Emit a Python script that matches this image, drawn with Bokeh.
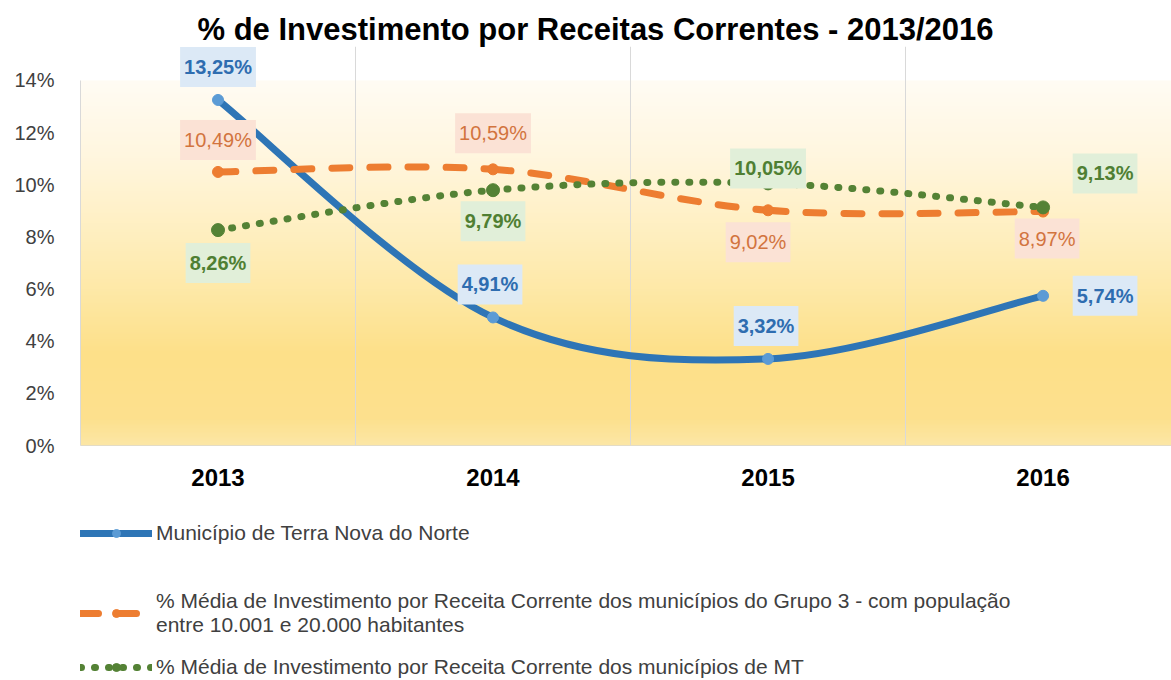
import numpy as np
from bokeh.plotting import figure
from bokeh.layouts import column
from bokeh.models import ColumnDataSource, Range1d, FixedTicker, Label, Legend, LegendItem
from bokeh.embed import file_html
from bokeh.resources import INLINE

# ---------------- data ----------------
years = ["2013", "2014", "2015", "2016"]
terra_nova = [13.25, 4.91, 3.32, 5.74]
grupo3 = [10.49, 10.59, 9.02, 8.97]
mt = [8.26, 9.79, 10.05, 9.13]
y_ticks = [0, 2, 4, 6, 8, 10, 12, 14]
y_tick_labels = ["0%", "2%", "4%", "6%", "8%", "10%", "12%", "14%"]
series_names = [
    "Município de Terra Nova do Norte",
    "% Média de Investimento por Receita Corrente dos municípios do Grupo 3 - com população\nentre 10.001 e 20.000 habitantes",
    "% Média de Investimento por Receita Corrente dos municípios de MT",
]
title_text = "% de Investimento por Receitas Correntes - 2013/2016"

# ---------------- styles ----------------
FONT = "Liberation Sans"
xs = list(range(1, len(years) + 1))
blue, blue_m = "#2E75B6", "#5B9BD5"
orange = "#ED7D31"
green = "#548235"

# label offsets (px) per series / point
blue_off = [(0, 33), (-3, 33), (-2, 33), (62, 0)]
orange_off = [(0, 32), (0, 36), (-10, -32), (4, -27)]
green_off = [(0, -33), (0, -31), (0, 15), (62, 34)]
# legend entry positions inside the legend strip (px from its frame's bottom-left)
legend_pos = [(0, 135), (0, 43), (0, 1)]


def bezier_source(xv, yv):
    n = len(xv)
    pts = list(zip(xv, yv))
    d = dict(x0=[], y0=[], x1=[], y1=[], cx0=[], cy0=[], cx1=[], cy1=[])
    for i in range(n - 1):
        p0 = pts[max(i - 1, 0)]
        p1 = pts[i]
        p2 = pts[i + 1]
        p3 = pts[min(i + 2, n - 1)]
        d["x0"].append(p1[0]); d["y0"].append(p1[1])
        d["x1"].append(p2[0]); d["y1"].append(p2[1])
        d["cx0"].append(p1[0] + (p2[0] - p0[0]) / 6.0)
        d["cy0"].append(p1[1] + (p2[1] - p0[1]) / 6.0)
        d["cx1"].append(p2[0] - (p3[0] - p1[0]) / 6.0)
        d["cy1"].append(p2[1] - (p3[1] - p1[1]) / 6.0)
    return ColumnDataSource(d)


def fmt(v):
    return ("%.2f" % v).replace(".", ",") + "%"


p = figure(
    width=1171, height=500,
    x_range=Range1d(0.5, 4.467), y_range=Range1d(0, 15.3),
    output_backend="svg", toolbar_location=None,
    min_border_left=80, min_border_right=0, min_border_top=46, min_border_bottom=55,
)
p.outline_line_color = None
p.background_fill_color = "white"
p.border_fill_color = "white"

# title
p.title.text = title_text
p.title.text_font = FONT
p.title.text_font_size = "31px"
p.title.text_font_style = "bold"
p.title.text_color = "black"
p.title.align = "left"
p.title.offset = 117
p.title.standoff = 0

# background gradient
rows = 280
yy = np.linspace(0, 14, rows)
stop_y = [0, 1.0, 3.5, 6.0, 8.5, 11.0, 14.0]
stop_c = [(252, 231, 166), (253, 225, 142), (253, 224, 137), (254, 233, 168),
          (255, 240, 196), (255, 246, 222), (255, 252, 244)]
r = np.interp(yy, stop_y, [c[0] for c in stop_c])
g = np.interp(yy, stop_y, [c[1] for c in stop_c])
b = np.interp(yy, stop_y, [c[2] for c in stop_c])
img = np.empty((rows, 2), dtype=np.uint32)
view = img.view(dtype=np.uint8).reshape((rows, 2, 4))
for j in range(2):
    view[:, j, 0] = r.astype(np.uint8)
    view[:, j, 1] = g.astype(np.uint8)
    view[:, j, 2] = b.astype(np.uint8)
    view[:, j, 3] = 255
bg = p.image_rgba(image=[img], x=0.5, y=0, dw=4.0, dh=14)
bg.level = "image"

# axes
p.yaxis.ticker = FixedTicker(ticks=y_ticks)
p.yaxis.bounds = (y_ticks[0], y_ticks[-1])
p.yaxis.major_label_overrides = {t: l for t, l in zip(y_ticks, y_tick_labels)}
p.yaxis.major_label_text_font = FONT
p.yaxis.major_label_text_font_size = "20px"
p.yaxis.major_label_text_color = "#404040"
p.yaxis.major_tick_line_color = None
p.yaxis.minor_tick_line_color = None
p.yaxis.axis_line_color = "#D9D9D9"
p.yaxis.major_label_standoff = 20

p.xaxis.ticker = FixedTicker(ticks=xs)
p.xaxis.major_label_overrides = {t: l for t, l in zip(xs, years)}
p.xaxis.major_label_text_font = FONT
p.xaxis.major_label_text_font_size = "24px"
p.xaxis.major_label_text_font_style = "bold"
p.xaxis.major_label_text_color = "black"
p.xaxis.major_tick_line_color = None
p.xaxis.minor_tick_line_color = None
p.xaxis.axis_line_color = "#E3DCC6"
p.xaxis.major_label_standoff = 17

p.ygrid.grid_line_color = None
p.xgrid.ticker = FixedTicker(ticks=[1.5, 2.5, 3.5])
p.xgrid.bounds = (y_ticks[0], y_ticks[-1])
p.xgrid.grid_line_color = "#D9D9D9"
p.xgrid.grid_line_width = 1

# series
series_styles = [
    (terra_nova, blue, blue_m, 7, "solid", 11),
    (grupo3, orange, orange, 7, "18 20", 11),
    (mt, green, green, 7, "1 13", 13),
]
for vals, lc, mc, lw, dash, ms in series_styles:
    p.bezier(x0="x0", y0="y0", x1="x1", y1="y1", cx0="cx0", cy0="cy0", cx1="cx1", cy1="cy1",
             source=bezier_source(xs, vals), line_color=lc, line_width=lw,
             line_dash=dash, line_cap="round")
    p.scatter(xs, vals, size=ms, fill_color=mc, line_color=mc)

# data labels
label_specs = [
    (terra_nova, blue_off, "#2E6DB0", "#DCE9F6", "bold"),
    (grupo3, orange_off, "#D2743E", "#FBE2D5", "normal"),
    (mt, green_off, "#4F7F33", "#E1EFD9", "bold"),
]
for vals, offs, tc, bc, fs in label_specs:
    for xi, v, (ox, oy) in zip(xs, vals, offs):
        p.add_layout(Label(
            x=xi, y=v, text=fmt(v), x_offset=ox, y_offset=oy,
            text_align="center", text_baseline="middle",
            text_font=FONT, text_font_size="20px", text_font_style=fs, text_color=tc,
            background_fill_color=bc, padding=(4, 9),
        ))

# ---------------- legend strip ----------------
lg = figure(
    width=1171, height=180, x_range=Range1d(0, 1), y_range=Range1d(0, 1),
    output_backend="svg", toolbar_location=None,
    min_border_left=0, min_border_right=0, min_border_top=0, min_border_bottom=0,
)
lg.axis.visible = False
lg.grid.visible = False
lg.outline_line_color = None
lg.background_fill_color = "white"
lg.border_fill_color = "white"

for (vals, lc, mc, lw, dash, ms), (lx, ly), name in zip(series_styles, legend_pos, series_names):
    # hidden copies of each series: only their styles are shown, as legend samples
    lr = lg.line(x=xs, y=vals, line_color=lc, line_width=lw, line_dash=dash,
                 line_cap="round", visible=False)
    sr = lg.scatter(x=xs, y=vals, size=ms, fill_color=mc, line_color=mc, visible=False)
    leg = Legend(
        items=[LegendItem(label=name, renderers=[lr, sr])],
        location=(lx, ly), glyph_width=72, glyph_height=20,
        label_text_font=FONT, label_text_font_size="21px", label_text_color="#404040",
        label_standoff=4, background_fill_alpha=0, border_line_color=None,
        inactive_fill_alpha=0, padding=0, margin=0, spacing=0,
    )
    lg.add_layout(leg)

layout = column(p, lg, spacing=0)
open("out.html", "w").write(file_html(layout, INLINE))
